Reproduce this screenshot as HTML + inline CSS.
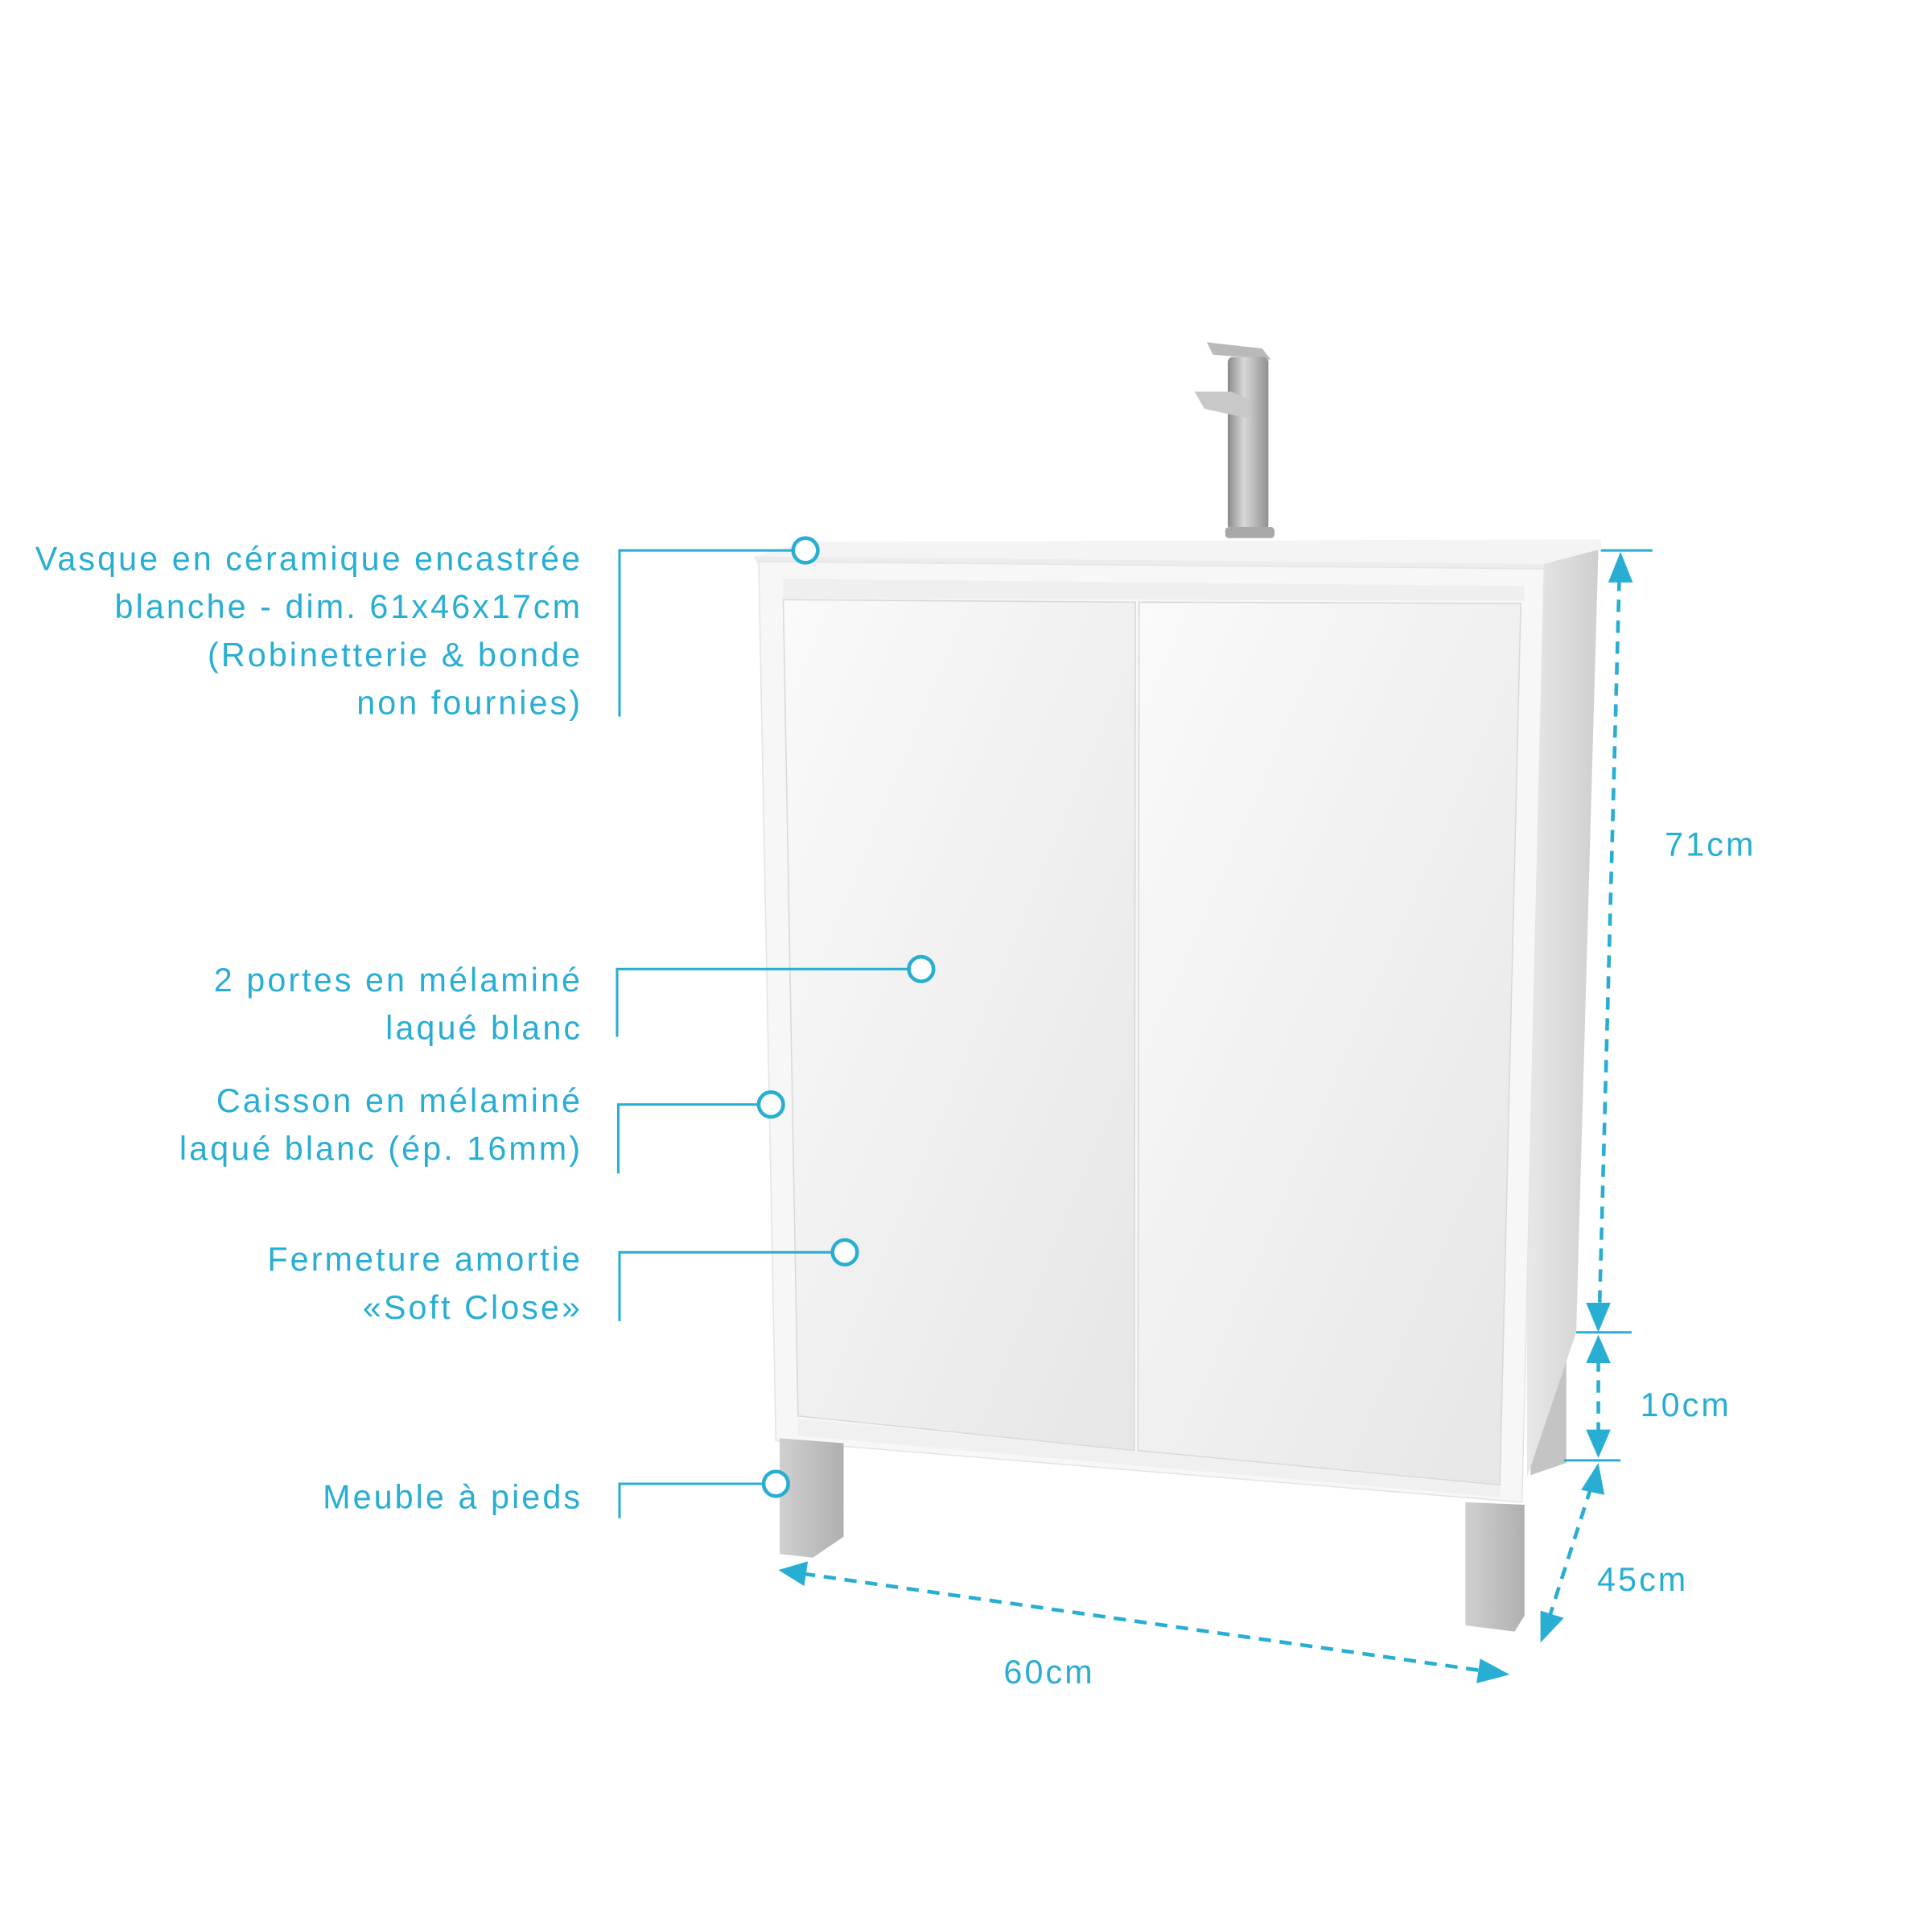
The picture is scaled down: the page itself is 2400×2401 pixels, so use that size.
<!DOCTYPE html>
<html><head><meta charset="utf-8"><style>
html,body{margin:0;padding:0;background:#fff;}
svg{display:block;}
text{font-family:"Liberation Sans Narrow","Liberation Sans",sans-serif;fill:#29aed3;font-size:27px;letter-spacing:2px;}
</style></head><body>
<svg width="2400" height="2401" viewBox="0 0 1568 1569" xmlns="http://www.w3.org/2000/svg">
<defs>
<linearGradient id="door" x1="0" y1="0" x2="1" y2="1"><stop offset="0" stop-color="#fafafa"/><stop offset="1" stop-color="#e6e6e6"/></linearGradient>
<linearGradient id="side" x1="0" y1="0" x2="1" y2="0"><stop offset="0" stop-color="#e8e8e8"/><stop offset="1" stop-color="#cfcfcf"/></linearGradient>
<linearGradient id="chrome" x1="0" y1="0" x2="1" y2="0"><stop offset="0" stop-color="#8a8a8a"/><stop offset="0.4" stop-color="#d8d8d8"/><stop offset="1" stop-color="#909090"/></linearGradient>
<linearGradient id="leg" x1="0" y1="0" x2="1" y2="0"><stop offset="0" stop-color="#d0d0d0"/><stop offset="1" stop-color="#b0b0b0"/></linearGradient>
</defs>
<!-- faucet -->
<path d="M980,278 L1025,283 L1032,292 L985,288 Z" fill="#b9b9b9"/>
<rect x="997" y="290" width="33" height="140" rx="4" fill="url(#chrome)"/>
<path d="M970,318 L1000,318 L1015,325 L1015,340 L978,332 Z" fill="#c8c8c8"/>
<rect x="995" y="428" width="40" height="9" rx="3" fill="#a8a8a8"/>
<!-- back right leg -->
<polygon points="1243,1115 1272,1100 1272,1188 1243,1198" fill="#c4c4c4"/>
<!-- right side panel -->
<polygon points="1240,460 1298,446 1280,1082 1240,1200" fill="url(#side)"/>
<!-- countertop -->
<polygon points="612,452 655,440 1300,438 1300,446 1254,458 618,456" fill="#f4f4f4"/>
<polygon points="612,452 1254,458 1254,462 615,458" fill="#ececec"/>
<!-- cabinet front frame -->
<polygon points="616,456 1254,462 1236,1220 630,1170" fill="#f7f7f7" stroke="#e4e4e4" stroke-width="1"/>
<polygon points="636,470 1238,476 1238,488 636,486" fill="#efefef"/>
<!-- doors -->
<polygon points="636,487 922,489 921,1178 648,1150" fill="url(#door)" stroke="#d8d8d8" stroke-width="1"/>
<polygon points="925,489 1235,490 1218,1206 924,1178" fill="url(#door)" stroke="#d8d8d8" stroke-width="1"/>
<!-- bottom rail -->
<polygon points="648,1152 1218,1207 1218,1216 648,1166" fill="#f0f0f0"/>
<!-- front legs -->
<polygon points="633,1168 685,1172 685,1248 660,1265 633,1262" fill="url(#leg)"/>
<polygon points="1190,1220 1238,1222 1238,1312 1230,1325 1190,1320" fill="url(#leg)"/>
<!-- leaders -->
<g stroke="#29aed3" stroke-width="2" fill="#fff">
<polyline points="503,582 503,447 644,447" fill="none"/>
<circle cx="654" cy="447" r="10" stroke-width="3"/>
<polyline points="501,842 501,787 738,787" fill="none"/>
<circle cx="748" cy="787" r="10" stroke-width="3"/>
<polyline points="502,953 502,897 616,897" fill="none"/>
<circle cx="626" cy="897" r="10" stroke-width="3"/>
<polyline points="503,1073 503,1017 676,1017" fill="none"/>
<circle cx="686" cy="1017" r="10" stroke-width="3"/>
<polyline points="503,1233 503,1205 620,1205" fill="none"/>
<circle cx="630" cy="1205" r="10" stroke-width="3"/>
<!-- dimension extension lines -->
<line x1="1300" y1="447" x2="1342" y2="447"/>
<line x1="1280" y1="1082" x2="1325" y2="1082"/>
<line x1="1270" y1="1186" x2="1316" y2="1186"/>
</g>
<g stroke="#29aed3" stroke-width="3" stroke-dasharray="10,7" fill="none">
<line x1="1315" y1="470" x2="1299" y2="1060"/>
<line x1="1298" y1="1104" x2="1298" y2="1164"/>
<line x1="1292" y1="1208" x2="1258" y2="1314"/>
<line x1="652" y1="1278" x2="1205" y2="1357"/>
</g>
<g fill="#29aed3">
<polygon points="1316,448 1306,473 1326,473"/>
<polygon points="1298,1082 1288,1058 1308,1058"/>
<polygon points="1298,1084 1288,1107 1308,1107"/>
<polygon points="1298,1184 1288,1161 1308,1161"/>
<polygon points="1298,1188 1284,1210 1303,1214"/>
<polygon points="1251,1334 1251,1308 1270,1314"/>
<polygon points="632,1275 656,1268 653,1288"/>
<polygon points="1226,1360 1202,1347 1199,1367"/>
</g>
<!-- labels -->
<g text-anchor="end">
<text x="473" y="463">Vasque en céramique encastrée</text>
<text x="473" y="502">blanche - dim. 61x46x17cm</text>
<text x="473" y="541">(Robinetterie &amp; bonde</text>
<text x="473" y="580">non fournies)</text>
<text x="473" y="805">2 portes en mélaminé</text>
<text x="473" y="844">laqué blanc</text>
<text x="473" y="903">Caisson en mélaminé</text>
<text x="473" y="942">laqué blanc (ép. 16mm)</text>
<text x="473" y="1032">Fermeture amortie</text>
<text x="473" y="1071">«Soft Close»</text>
<text x="473" y="1225">Meuble à pieds</text>
</g>
<text x="1352" y="695">71cm</text>
<text x="1332" y="1150">10cm</text>
<text x="1297" y="1292">45cm</text>
<text x="815" y="1367">60cm</text>
</svg>
</body></html>
